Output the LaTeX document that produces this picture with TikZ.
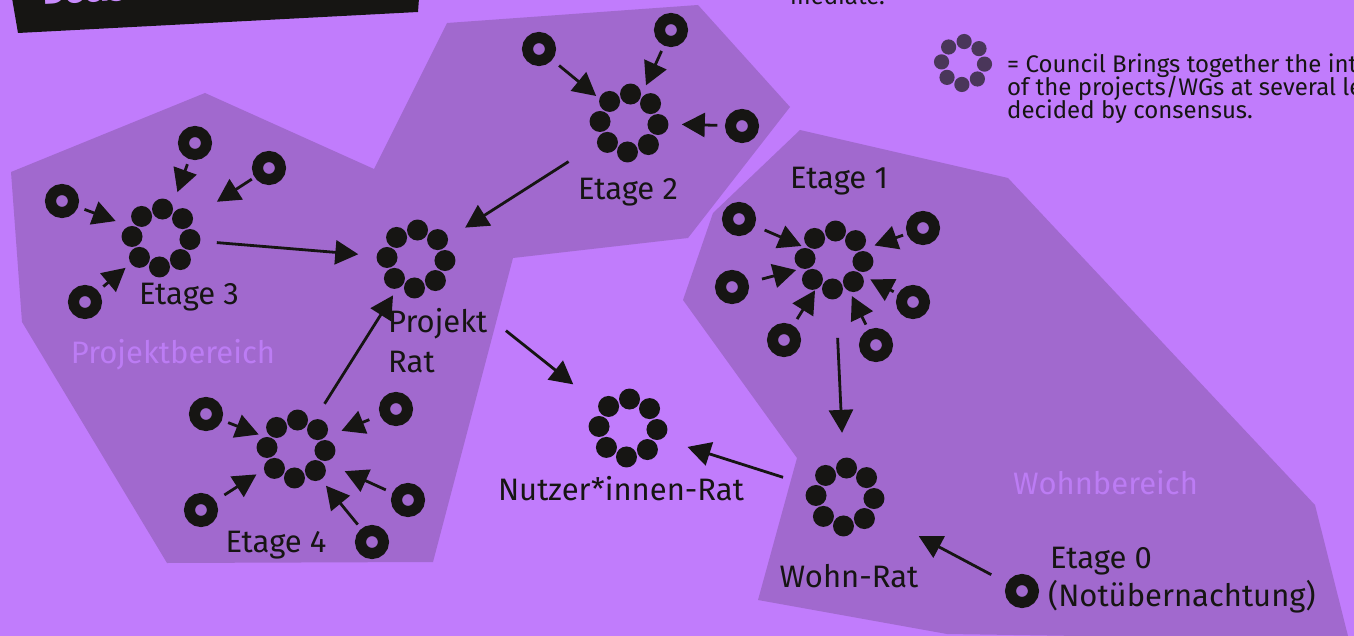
\documentclass[tikz,border=0pt]{standalone}
\usepackage{fontspec}
\setmainfont{Fira Sans}
\usetikzlibrary{arrows.meta}
\definecolor{bgc}{RGB}{193,124,252}
\definecolor{regc}{RGB}{161,105,206}
\definecolor{ink}{RGB}{22,21,19}
\definecolor{faint}{RGB}{188,124,244}
\definecolor{legc}{RGB}{74,54,90}
\definecolor{titc}{RGB}{200,138,252}
\newcommand{\dotring}[4]{\foreach \k in {0,...,7}{\fill[#2] (#1) ++({-87+45*\k}:#3) circle[radius=#4];}}
\tikzset{
  person/.style={circle, draw=ink, line width=11pt, minimum size=23pt, inner sep=0pt, outer sep=5.5pt},
  council/.style={circle, inner sep=0pt, outer sep=0pt, minimum size=0pt},
  arr/.style={draw=ink, line width=2.8pt, -{Triangle[length=23pt,width=24pt]}},
  lbl/.style={text=ink, font=\fontsize{31}{36}\selectfont, inner sep=0pt, anchor=base},
  leg/.style={text=ink, font=\fontsize{24}{24}\selectfont, inner sep=0pt, anchor=base west},
  area/.style={fill=regc, draw=none}
}
\begin{document}
\begin{tikzpicture}[x=1pt,y=-1pt]
\useasboundingbox (0,0) rectangle (1354,636);
\clip (0,0) rectangle (1354,636);
\fill[bgc] (0,0) rectangle (1354,636);
% regions
\path[area] (11,172) -- (205,93) -- (374,169) -- (447,23) -- (698,5) -- (790,107) -- (688,238) -- (513,258) -- (433,562) -- (167,563) -- (22,322) -- cycle;
\path[area] (800,130) -- (1008,178) -- (1315,505) -- (1349,640) -- (947,634) -- (758,600) -- (797,458) -- (683,300) -- (713,213) -- cycle;
% title banner
\fill[ink] (12,-2) -- (419,-2) -- (418,12) -- (18,33) -- cycle;
\node[text=titc, font=\fontsize{34}{40}\selectfont\bfseries, inner sep=0pt, anchor=base west, rotate=3] (title) at (43,5) {Decisi};
% region labels
\node[lbl, text=faint] (pbl) at (173,363) {Projektbereich};
\node[lbl, text=faint, anchor=base west] (wbl) at (1013,494) {Wohnbereich};
% councils
\node[council] (e3) at (161,238) {};
\node[council] (pr) at (416,259) {};
\node[council] (e2) at (629,123) {};
\node[council] (e1) at (834,260) {};
\node[council] (e4) at (296,449) {};
\node[council] (nr) at (628,428) {};
\node[council] (wr) at (845,497) {};
\node[council] (lgc) at (963,63) {};
\dotring{e3}{ink}{29}{10.5pt}
\dotring{pr}{ink}{29}{10.5pt}
\dotring{e2}{ink}{29}{10.5pt}
\dotring{e1}{ink}{29}{10.5pt}
\dotring{e4}{ink}{29}{10.5pt}
\dotring{nr}{ink}{29}{10.5pt}
\dotring{wr}{ink}{29}{10.5pt}
\dotring{lgc}{legc}{21.5}{7.6pt}
% persons
\node[person] (pA) at (195,143) {};
\node[person] (pB) at (269,168) {};
\node[person] (pC) at (62,201) {};
\node[person] (pD) at (85,302) {};
\node[person] (pE) at (539,49) {};
\node[person] (pF) at (671,30) {};
\node[person] (pG) at (742,126) {};
\node[person] (pH) at (739,219) {};
\node[person] (pI) at (923,228) {};
\node[person] (pJ) at (732,287) {};
\node[person] (pK) at (913,302) {};
\node[person] (pL) at (784,340) {};
\node[person] (pM) at (876,345) {};
\node[person] (pN) at (206,414) {};
\node[person] (pO) at (396,409) {};
\node[person] (pP) at (201,510) {};
\node[person] (pQ) at (408,500) {};
\node[person] (pR) at (372,542) {};
\node[person] (pZ) at (1022,591) {};
% arrows persons -> councils
\draw[arr, shorten <=5.5pt, shorten >=48.7pt] (pA) -- (e3);
\draw[arr, shorten <=3.5pt, shorten >=66.6pt] (pB) -- (e3);
\draw[arr, shorten <=7pt, shorten >=48.4pt] (pC) -- (e3);
\draw[arr, shorten <=7pt, shorten >=46.3pt] (pD) -- (e3);
\draw[arr, shorten <=9pt, shorten >=42.5pt] (pE) -- (e2);
\draw[arr, shorten <=6pt, shorten >=41.3pt] (pF) -- (e2);
\draw[arr, shorten <=7.7pt, shorten >=52.8pt] (pG) -- (e2);
\draw[arr, shorten <=10.9pt, shorten >=35.4pt] (pH) -- (e1);
\draw[arr, shorten <=4.2pt, shorten >=43pt] (pI) -- (e1);
\draw[arr, shorten <=14pt, shorten >=39.2pt] (pJ) -- (e1);
\draw[arr, shorten <=4.9pt, shorten >=41.1pt] (pK) -- (e1);
\draw[arr, shorten <=7.7pt, shorten >=35.8pt] (pL) -- (e1);
\draw[arr, shorten <=5.8pt, shorten >=40.2pt] (pM) -- (e1);
\draw[arr, shorten <=6.8pt, shorten >=40pt] (pN) -- (e4);
\draw[arr, shorten <=11.7pt, shorten >=49pt] (pO) -- (e4);
\draw[arr, shorten <=10.8pt, shorten >=47pt] (pP) -- (e4);
\draw[arr, shorten <=7.4pt, shorten >=53.5pt] (pQ) -- (e4);
\draw[arr, shorten <=5.5pt, shorten >=47.4pt] (pR) -- (e4);
\draw[arr, shorten <=17.8pt, shorten >=83.6pt] (pZ) -- (wr);
% arrows councils -> councils
\draw[arr, shorten <=56pt, shorten >=57.9pt] (e3) -- (pr);
\draw[arr, shorten <=71.7pt, shorten >=58.3pt] (e2) -- (pr);
\draw[arr, shorten <=53.5pt, shorten >=43pt] (e4) -- (pr);
\draw[arr, shorten <=115pt, shorten >=70pt] (pr) -- (nr);
\draw[arr, shorten <=78pt, shorten >=64.2pt] (e1) -- (wr);
\draw[arr, shorten <=65pt, shorten >=62.4pt] (wr) -- (nr);
% labels
\node[lbl] (l3) at (189,304) {Etage 3};
\node[lbl, anchor=base west] (lpr1) at (388,332) {Projekt};
\node[lbl, anchor=base west] (lpr2) at (388,372) {Rat};
\node[lbl] (l2) at (628,200) {Etage 2};
\node[lbl] (l1) at (839,189) {Etage 1};
\node[lbl] (lnr) at (621,500) {Nutzer*innen-Rat};
\node[lbl] (l4) at (276,552) {Etage 4};
\node[lbl] (lwr) at (849,587) {Wohn-Rat};
\node[lbl, anchor=base west] (l0a) at (1050,568) {Etage 0};
\node[lbl, anchor=base west] (l0b) at (1048,606) {(Notübernachtung)};
% legend
\node[leg] (mtop) at (790,5) {mediate.};
\node[leg] (lg1) at (1007,73) {= Council Brings together the int};
\node[leg] (lg2) at (1007,96) {of the projects/WGs at several le};
\node[leg] (lg3) at (1007,119) {decided by consensus.};
\end{tikzpicture}
\end{document}
